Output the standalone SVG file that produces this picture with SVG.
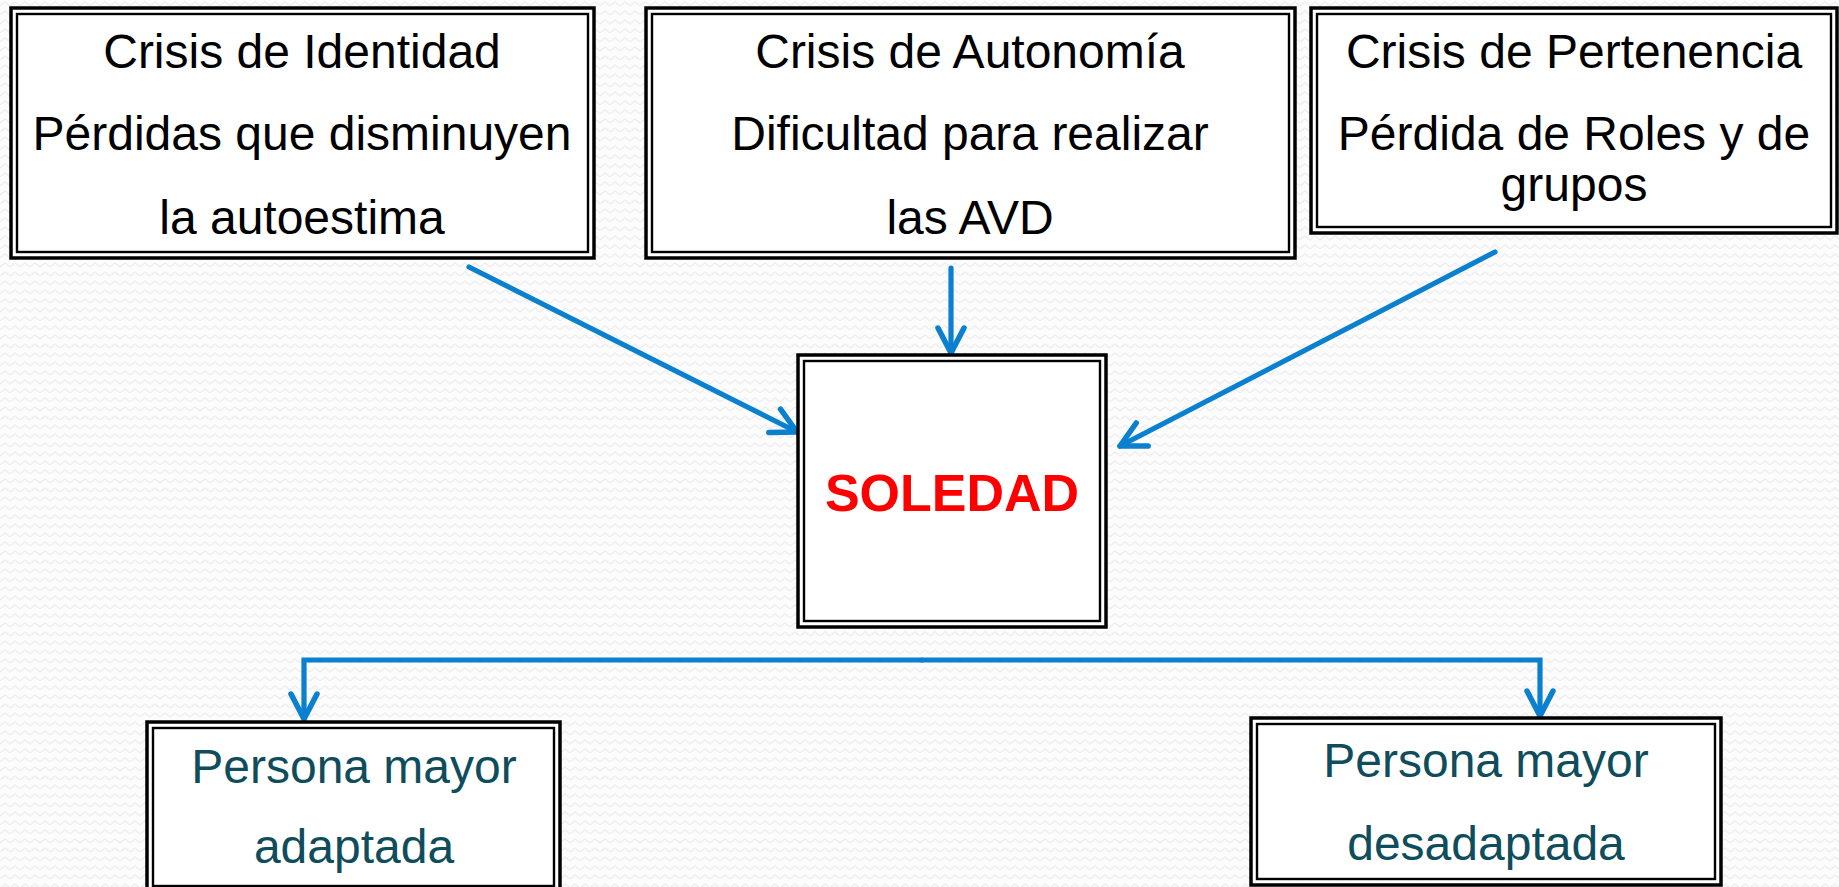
<svg xmlns="http://www.w3.org/2000/svg" width="1839" height="887" viewBox="0 0 1839 887">
<defs>
<style>
.outer{fill:#ffffff;stroke:#000;stroke-width:3.5}
.inner{fill:none;stroke:#000;stroke-width:2.4}
.t{font-family:"Liberation Sans",Arial,sans-serif;font-size:48px;text-anchor:middle;fill:#000}
.teal{fill:#0f4d5c}
.red{font-weight:bold;font-size:52px;fill:#ff0000}
.conn{fill:none;stroke:#0a80cf;stroke-width:5.2;stroke-linecap:round;stroke-linejoin:miter}
</style>
<pattern id="zig" patternUnits="userSpaceOnUse" width="10" height="9">
<path d="M0,6 L5,2 L10,6" fill="none" stroke="#efefef" stroke-width="1.6"/>
</pattern>
<marker id="ah" markerUnits="userSpaceOnUse" viewBox="-30 -16 34 32" refX="0" refY="0" markerWidth="34" markerHeight="32" orient="auto" overflow="visible">
<path d="M-25,-13 L0,0 L-25,13" fill="none" stroke="#0a80cf" stroke-width="5.5" stroke-linecap="round" stroke-linejoin="round"/>
</marker>
</defs>
<rect x="0" y="0" width="1839" height="887" fill="#fcfcfc"/>
<rect x="0" y="0" width="1839" height="887" fill="url(#zig)"/>

<g id="connectors">
<line class="conn" x1="469" y1="267" x2="797" y2="432" marker-end="url(#ah)"/>
<line class="conn" x1="951" y1="268" x2="951" y2="353" marker-end="url(#ah)"/>
<line class="conn" x1="1495" y1="252" x2="1120" y2="446" marker-end="url(#ah)"/>
<path class="conn" d="M922,660 H304 V719" marker-end="url(#ah)"/>
<path class="conn" d="M922,660 H1540 V716" marker-end="url(#ah)"/>
</g>

<g id="node-identidad">
<rect class="outer" x="11" y="8" width="583" height="250"/>
<rect class="inner" x="17" y="14" width="571" height="238"/>
<text class="t" x="302" y="68">Crisis de Identidad</text>
<text class="t" x="302" y="150">Pérdidas que disminuyen</text>
<text class="t" x="302" y="234">la autoestima</text>
</g>

<g id="node-autonomia">
<rect class="outer" x="646" y="8" width="649" height="250"/>
<rect class="inner" x="652" y="14" width="637" height="238"/>
<text class="t" x="970" y="68">Crisis de Autonomía</text>
<text class="t" x="970" y="150">Dificultad para realizar</text>
<text class="t" x="970" y="234">las AVD</text>
</g>

<g id="node-pertenencia">
<rect class="outer" x="1311" y="8" width="526" height="225"/>
<rect class="inner" x="1317" y="14" width="514" height="213"/>
<text class="t" x="1574" y="68">Crisis de Pertenencia</text>
<text class="t" x="1574" y="150">Pérdida de Roles y de</text>
<text class="t" x="1574" y="201">grupos</text>
</g>

<g id="node-soledad">
<rect class="outer" x="798" y="355" width="308" height="272"/>
<rect class="inner" x="804" y="361" width="296" height="260"/>
<text class="t red" x="952" y="511">SOLEDAD</text>
</g>

<g id="node-adaptada">
<rect class="outer" x="147" y="722" width="413" height="172"/>
<rect class="inner" x="153" y="728" width="401" height="158"/>
<text class="t teal" x="354" y="783">Persona mayor</text>
<text class="t teal" x="354" y="863">adaptada</text>
</g>

<g id="node-desadaptada">
<rect class="outer" x="1251" y="718" width="470" height="167"/>
<rect class="inner" x="1257" y="724" width="458" height="155"/>
<text class="t teal" x="1486" y="777">Persona mayor</text>
<text class="t teal" x="1486" y="860">desadaptada</text>
</g>
</svg>
